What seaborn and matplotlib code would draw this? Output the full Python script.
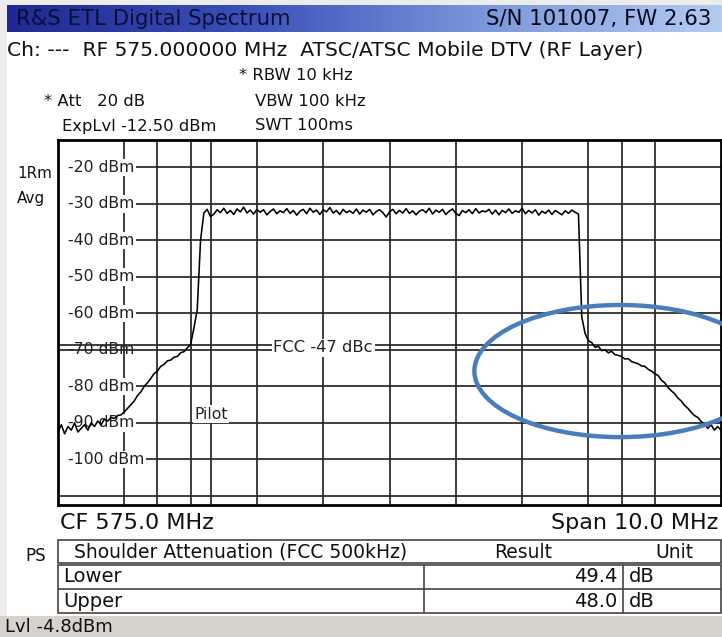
import numpy as np
import seaborn as sns
import matplotlib.pyplot as plt
from matplotlib.patches import Rectangle, Ellipse
from matplotlib.colors import LinearSegmentedColormap

W, H = 722, 637

# analyzer settings
start_mhz, stop_mhz = 570.0, 580.0
ref_dbm, bottom_dbm = -12.5, -112.5
trace_step_mhz = 0.05

# trace, one value every 50 kHz from 570.0 MHz
trace_dbm = [
    -92.5, -90.5, -93.0, -91.0, -92.0, -90.0, -92.5, -91.5, -90.5, -92.0,
    -90.0, -91.0, -89.5, -90.5, -89.0, -89.5, -88.5, -88.8, -88.0, -87.8,
    -87.0, -86.0, -85.0, -84.0, -82.5, -81.5, -80.0, -79.0, -77.8, -76.5,
    -75.8, -74.5, -74.0, -73.0, -72.8, -72.0, -71.8, -70.8, -70.5, -69.5,
    -68.5, -64.0, -59.0, -40.0, -32.5, -31.5, -33.5, -32.8, -31.6, -32.4,
    -31.2, -32.6, -31.8, -32.9, -31.4, -32.2, -30.9, -32.5, -31.7, -32.8,
    -31.5, -32.3, -31.6, -33.0, -32.1, -31.4, -32.7, -31.9, -32.4, -31.3,
    -32.6, -31.8, -33.1, -32.0, -31.5, -32.7, -31.2, -32.3, -31.7, -32.9,
    -31.6, -32.2, -31.0, -32.5, -31.8, -32.9, -31.5, -32.4, -31.9, -32.6,
    -31.4, -32.8, -31.7, -32.3, -31.5, -33.0, -32.1, -31.6, -32.4, -33.6,
    -32.2, -31.5, -32.7, -31.8, -32.5, -31.3, -32.6, -31.9, -33.0, -32.0,
    -31.6, -32.4, -31.2, -32.8, -31.7, -32.3, -31.5, -32.9, -32.0, -31.4,
    -32.6, -33.2, -31.8, -32.4, -31.6, -32.7, -31.3, -32.5, -31.9, -32.2,
    -31.5, -32.8, -31.7, -33.0, -31.8, -32.4, -31.4, -32.6, -31.9, -32.3,
    -31.2, -32.7, -31.8, -32.5, -31.6, -33.1, -32.0, -32.6, -31.7, -32.9,
    -31.8, -32.4, -33.0, -31.9, -32.6, -31.7, -32.3, -32.8, -61.0, -65.5,
    -67.5, -68.0, -69.3, -69.0, -70.2, -70.0, -70.8, -70.4, -71.3, -71.5,
    -71.8, -72.5, -72.4, -73.2, -73.5, -73.8, -74.4, -74.5, -75.3, -75.8,
    -76.5, -77.0, -78.3, -79.0, -80.3, -81.2, -82.0, -83.2, -84.0, -85.2,
    -86.0, -87.1, -88.0, -88.5, -89.6, -90.3, -91.5, -90.5, -92.0, -91.0,
    -92.0,
]
trace_mhz = start_mhz + trace_step_mhz * np.arange(len(trace_dbm))

grid_mhz = [571, 572, 573, 574, 575, 576, 577, 578, 579]
shoulder_mhz = [571.5, 578.5]
pilot_mhz = 572.31
grid_dbm = [-20, -30, -40, -50, -60, -70, -80, -90, -100, -110]
label_dbm = [-20, -30, -40, -50, -60, -70, -80, -90, -100]
fcc_dbm = -68.8

settings = [
    ("* RBW 10 kHz", 239, 75),
    ("* Att   20 dB", 44, 101),
    ("VBW 100 kHz", 255, 101),
    ("ExpLvl -12.50 dBm", 62, 126),
    ("SWT 100ms", 255, 126),
]
table_rows = ["Lower", "Upper"]
table_results = [49.4, 48.0]
table_unit = "dB"

sns.set_style("white")
plt.rcParams['font.family'] = ['DejaVu Sans']

fig = plt.figure(figsize=(W / 100, H / 100), dpi=100)
fig.patch.set_facecolor("white")


def px_text(x, y, s, **kw):
    kw.setdefault("va", "center")
    kw.setdefault("color", "#111111")
    return fig.text(x / W, 1 - y / H, s, **kw)


def px_rect(x0, y0, x1, y1, **kw):
    r = Rectangle((x0 / W, 1 - y1 / H), (x1 - x0) / W, (y1 - y0) / H,
                  transform=fig.transFigure, **kw)
    fig.add_artist(r)
    return r


def px_line(x0, y0, x1, y1, **kw):
    fig.add_artist(plt.Line2D([x0 / W, x1 / W], [1 - y0 / H, 1 - y1 / H],
                              transform=fig.transFigure, **kw))


# window chrome
px_rect(0, 0, 7, H, color="#ececec", lw=0)
px_rect(0, 0, W, 5, color="#ececec", lw=0)
px_rect(0, 616, W, H, color="#d6d3ce", lw=0)

hax = fig.add_axes([7 / W, 1 - 32 / H, 1 - 7 / W, 27 / H])
head_cmap = LinearSegmentedColormap.from_list(
    "head", ["#1e2a92", "#3b4fb8", "#7a97da", "#b4cbf2"])
hax.imshow(np.linspace(0, 1, 256)[None, :], aspect="auto", cmap=head_cmap)
hax.axis("off")

px_text(16, 19, "R&S ETL Digital Spectrum", fontsize=15.3, color="#0a0f3a")
px_text(711, 19, "S/N 101007, FW 2.63", fontsize=15.3, ha="right", color="#0a0a1a")
px_text(7, 51, "Ch: ---  RF 575.000000 MHz  ATSC/ATSC Mobile DTV (RF Layer)",
        fontsize=14.6)
for s, x, y in settings:
    px_text(x, y, s, fontsize=11.8)

px_text(17, 174, "1Rm", fontsize=10.9)
px_text(17, 198, "Avg", fontsize=10.9)

# spectrum window
ax = fig.add_axes([58 / W, 1 - 505 / H, 663 / W, 365 / H])
ax.set_xlim(start_mhz, stop_mhz)
ax.set_ylim(bottom_dbm, ref_dbm)
ax.set_xticks([])
ax.set_yticks([])
for sp in ax.spines.values():
    sp.set_linewidth(2.0)
    sp.set_color("black")

gc = "#262626"
for g in grid_dbm:
    ax.axhline(g, color=gc, lw=1.25, zorder=1)
for v in grid_mhz + shoulder_mhz + [pilot_mhz]:
    ax.axvline(v, color=gc, lw=1.25, zorder=1)

for v in label_dbm:
    ax.text(start_mhz, v, f"  {v} dBm", ha="left", va="center",
            fontsize=11.3, color="#222222", zorder=0.5 if v == -70 else 2,
            bbox=dict(boxstyle="square,pad=0.08", fc="white", ec="none"))

ax.axhline(fcc_dbm, color=gc, lw=1.25, zorder=2.2)
ax.text(574.0, fcc_dbm - 0.6, "FCC -47 dBc", ha="center", va="center",
        fontsize=11.8, color="#222222", zorder=2.4,
        bbox=dict(boxstyle="square,pad=0.1", fc="white", ec="none"))
ax.text(pilot_mhz, -87.6, "Pilot", ha="center", va="center",
        fontsize=11.3, color="#222222", zorder=2.4,
        bbox=dict(boxstyle="square,pad=0.1", fc="white", ec="none"))

sns.lineplot(x=trace_mhz, y=trace_dbm, ax=ax, color="black", linewidth=1.15,
             estimator=None, zorder=3)

ax.add_patch(Ellipse((578.48, -75.8), 4.4, 36.2, fill=False, ec="#4a7ebb",
                     lw=3.2, clip_on=False, zorder=5))

px_text(60, 523, "CF 575.0 MHz", fontsize=16)
px_text(718, 523, "Span 10.0 MHz", fontsize=16, ha="right")

# shoulder attenuation table
tc = "#444444"
px_rect(58, 540, 721, 563, fill=False, ec=tc, lw=1.2)
px_rect(58, 565, 721, 613, fill=False, ec=tc, lw=1.2)
px_line(58, 589, 721, 589, color=tc, lw=1.2)
px_line(424, 565, 424, 613, color=tc, lw=1.2)
px_line(623, 565, 623, 613, color=tc, lw=1.2)
px_text(25, 556, "PS", fontsize=12)
px_text(74, 552, "Shoulder Attenuation (FCC 500kHz)", fontsize=13.5)
px_text(523, 552, "Result", fontsize=13.5, ha="center")
px_text(674, 552, "Unit", fontsize=13.5, ha="center")
for i, (name, val) in enumerate(zip(table_rows, table_results)):
    y = 577 + 24.5 * i
    px_text(63, y, name, fontsize=14)
    px_text(617, y, f"{val:.1f}", fontsize=14, ha="right")
    px_text(629, y, table_unit, fontsize=14)

px_text(5, 627, "Lvl -4.8dBm", fontsize=13)

fig.savefig("out.png", dpi=100)
